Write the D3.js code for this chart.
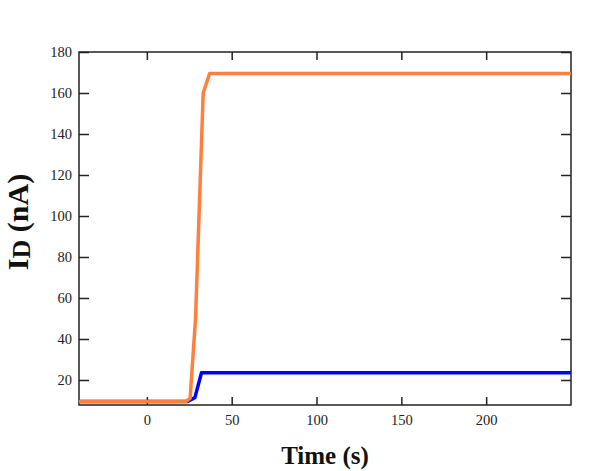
<!DOCTYPE html>
<html>
<head>
<meta charset="utf-8">
<script src="https://cdn.jsdelivr.net/npm/d3@7"></script>
<style>
  html, body { margin: 0; padding: 0; background: #fff; }
  svg { display: block; }
</style>
</head>
<body>
<svg id="chart" width="598" height="471"></svg>
<script>
// Data
const xTicks = [0, 50, 100, 150, 200];
const yTicks = [20, 40, 60, 80, 100, 120, 140, 160, 180];
const timeOrange = [-40, 23, 25.5, 28.7, 33.2, 37, 250];
const currentOrange = [9.5, 9.5, 11, 50, 160, 169.5, 169.5];
const timeBlue = [-40, 24, 28.3, 32.2, 250];
const currentBlue = [9.5, 9.5, 11.4, 23.5, 23.5];

const svg = d3.select("#chart");
const L = 79, R = 571, T = 52, B = 405;

const x = d3.scaleLinear().domain([-40, 250]).range([L, R]);
const y = d3.scaleLinear().domain([7.8, 180]).range([B, T]);

const fontSerif = "'Liberation Serif', 'Times New Roman', serif";

// frame
svg.append("rect").attr("x", L).attr("y", T).attr("width", R - L).attr("height", B - T)
  .attr("fill", "none").attr("stroke", "#222").attr("stroke-width", 1.5);

// axes
const gx = svg.append("g").attr("transform", `translate(0,${B})`)
  .call(d3.axisBottom(x).tickValues(xTicks).tickSize(-8).tickPadding(10).tickFormat(d3.format("d")));
const gxTop = svg.append("g").attr("transform", `translate(0,${T})`)
  .call(d3.axisTop(x).tickValues(xTicks).tickSize(-8).tickFormat(""));
const gy = svg.append("g").attr("transform", `translate(${L},0)`)
  .call(d3.axisLeft(y).tickValues(yTicks).tickSize(-10).tickPadding(7).tickFormat(d3.format("d")));
const gyR = svg.append("g").attr("transform", `translate(${R},0)`)
  .call(d3.axisRight(y).tickValues(yTicks).tickSize(-10).tickFormat(""));

[gx, gxTop, gy, gyR].forEach(g => {
  g.select(".domain").remove();
  g.selectAll(".tick line").attr("stroke", "#222").attr("stroke-width", 1.5);
  g.selectAll(".tick text").attr("font-family", fontSerif).attr("font-size", 14.5).attr("fill", "#222");
});

// lines
const line = d3.line().x(d => x(d[0])).y(d => y(d[1]));
svg.append("path").datum(d3.zip(timeBlue, currentBlue))
  .attr("d", line).attr("fill", "none").attr("stroke", "#0000ff")
  .attr("stroke-width", 3.5).attr("stroke-linejoin", "round");
svg.append("path").datum(d3.zip(timeOrange, currentOrange))
  .attr("d", line).attr("fill", "none").attr("stroke", "#ff7f3f")
  .attr("stroke-width", 3.5).attr("stroke-linejoin", "round");

// axis titles
svg.append("text").attr("x", (L + R) / 2).attr("y", 464).attr("text-anchor", "middle")
  .attr("font-family", fontSerif).attr("font-weight", "bold").attr("font-size", 25)
  .attr("fill", "#111").text("Time (s)");

const yl = svg.append("text").attr("transform", `translate(28,222) rotate(-90)`)
  .attr("text-anchor", "middle").attr("font-family", fontSerif).attr("font-weight", "bold")
  .attr("font-size", 30).attr("fill", "#111");
yl.append("tspan").text("I");
yl.append("tspan").attr("font-size", 26).attr("dy", 2).text("D");
yl.append("tspan").attr("dy", -2).text(" (nA)");
</script>
</body>
</html>
